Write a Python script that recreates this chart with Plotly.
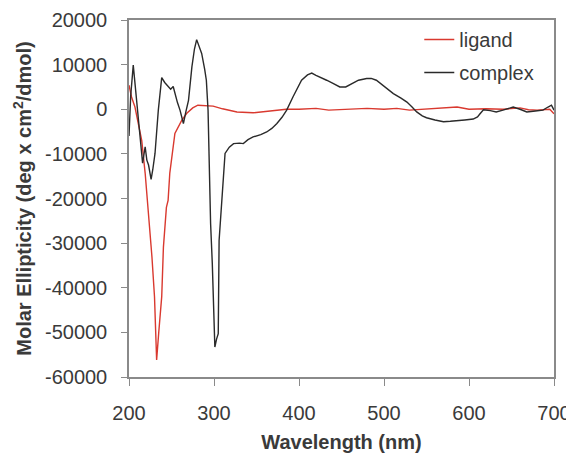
import plotly.graph_objects as go

# Ligand CD spectrum
wl_ligand = [200, 203, 207, 211, 215, 219, 221, 224, 227, 230, 232.5, 235, 238.5, 240.5,
             244, 246, 248, 254, 262, 268, 275, 281, 290, 299, 310, 327, 346, 360, 372,
             385, 400, 420, 435, 450, 465, 480, 500, 515, 530, 545, 560, 575, 586, 600,
             620, 640, 660, 670, 680, 695, 700]
val_ligand = [5400, 2750, 500, -3100, -7000, -14300, -18900, -25600, -33100, -42000, -56200,
              -50000, -42000, -30900, -22000, -20400, -14300, -5400, -2500, -900, 300, 900,
              800, 700, 100, -600, -800, -500, -300, 0, 0, 200, -200, -100, 100, 200, 0, 200,
              -200, 0, 200, 300, 500, 0, 100, 0, 300, -100, -200, 0, -1000]

# Complex CD spectrum
wl_complex = [200, 202, 205, 207, 209, 211, 213, 216, 219, 221, 223, 226, 228, 230.6, 234.5,
              238.5, 242, 246, 249, 252, 254, 257, 260, 264, 267, 270, 274, 277, 279.6, 282,
              285.5, 289, 291, 293, 295, 296, 298, 300, 301, 303, 305, 306, 309, 311, 313,
              318, 323, 330, 334.5, 340, 346, 355, 362, 368, 374, 380, 385.5, 393, 398, 403,
              410, 415, 420, 425, 432.5, 440, 448, 455, 460, 470, 479.6, 485, 491, 500, 511,
              520, 527, 533, 538.5, 545, 550, 560, 570, 578, 585.5, 595, 605, 610, 613, 617,
              625, 632, 640, 652, 660, 668, 678, 687, 693, 697, 700]
val_complex = [-6000, 3000, 9900, 6000, 2000, -1000, -5400, -12100, -8400, -11400, -12500,
               -15700, -13500, -9900, -200, 7100, 6000, 5000, 4500, 5100, 3500, 1500, -200,
               -3200, -500, 2000, 9500, 13500, 15600, 14500, 12500, 9000, 6500, -200, -17400,
               -25600, -34600, -45000, -53300, -51500, -50300, -29400, -20400, -16000, -9900,
               -8500, -7700, -7600, -7700, -6800, -6200, -5700, -5100, -4300, -3200, -1800,
               -200, 2800, 4500, 6500, 7700, 8100, 7600, 7100, 6500, 5800, 5000, 5000, 5500,
               6500, 6900, 6900, 6500, 5200, 3500, 2500, 1600, 500, -600, -1500, -1900, -2400,
               -2800, -2700, -2500, -2400, -2200, -1700, -1000, -100, -300, -600, -200, 500,
               0, -600, -400, -200, 500, 900, -200]

x_ticks = [200, 300, 400, 500, 600, 700]
y_ticks = [20000, 10000, 0, -10000, -20000, -30000, -40000, -50000, -60000]
y_tick_labels = [str(v) for v in y_ticks]

FONT = "Liberation Sans, Arial, sans-serif"
AXIS_COLOR = "#8a8a8a"
TEXT_COLOR = "#3a3a3a"
FS = 20

fig = go.Figure()
fig.add_trace(go.Scatter(x=wl_ligand, y=val_ligand, mode="lines", name="ligand",
                         legendgroup="a",
                         line=dict(color="#d9392f", width=1.4)))
fig.add_trace(go.Scatter(x=wl_complex, y=val_complex, mode="lines", name="complex",
                         legendgroup="b",
                         line=dict(color="#2a2a2a", width=1.4)))

# page body adds an 8px offset, so the figure is 8px smaller than the window
fig.update_layout(
    width=566, height=445,
    margin=dict(l=121, r=20, t=12, b=76, autoexpand=False),
    paper_bgcolor="white", plot_bgcolor="white",
    font=dict(family=FONT, size=FS, color=TEXT_COLOR),
    showlegend=True,
    legend=dict(x=0.683, y=1.0, xanchor="left", yanchor="top",
                bgcolor="rgba(0,0,0,0)", font=dict(size=FS, color=TEXT_COLOR),
                tracegroupgap=4, itemwidth=30),
    xaxis=dict(range=[200, 700], tickvals=x_ticks, ticks="outside", ticklen=7,
               tickcolor=AXIS_COLOR, showline=True, linecolor=AXIS_COLOR, linewidth=1.5,
               mirror=True, showgrid=False, zeroline=False, ticklabelstandoff=10,
               automargin=False,
               title=dict(text="<b>Wavelength (nm)</b>", font=dict(size=FS, color=TEXT_COLOR),
                          standoff=12)),
    yaxis=dict(range=[-60000, 20000], tickvals=y_ticks, ticktext=y_tick_labels,
               ticks="outside", ticklen=6,
               tickcolor=AXIS_COLOR, showline=True, linecolor=AXIS_COLOR, linewidth=1.5,
               mirror=True, showgrid=False, zeroline=False, ticklabelstandoff=10,
               automargin=False,
               title=dict(text="<b>Molar Ellipticity (deg x cm<sup>2</sup>/dmol)</b>",
                          font=dict(size=FS, color=TEXT_COLOR), standoff=8)),
)

fig.write_html("out.html")
